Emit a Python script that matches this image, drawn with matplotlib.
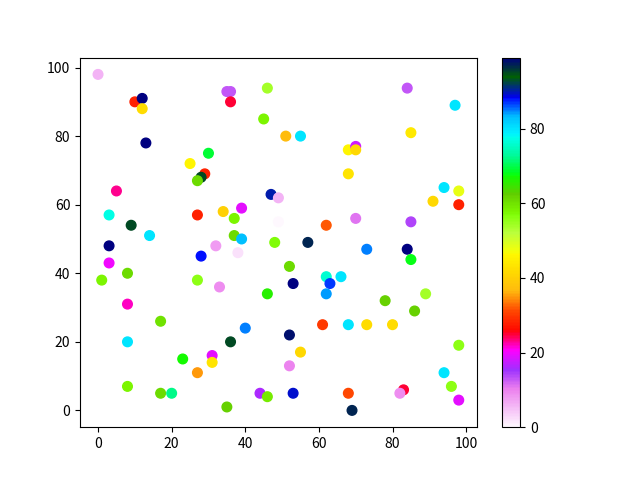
import matplotlib
matplotlib.use("Agg")
import matplotlib.pyplot as plt

plt.rcParams['font.family'] = ['Noto Sans CJK SC', 'DejaVu Sans']

x = [0, 10, 12, 12, 13, 25, 30, 29, 28, 27,
     35, 36, 36, 45, 46, 5, 3, 9, 14, 3,
     3, 1, 8, 8, 8, 17, 8, 17, 20, 23,
     27, 31, 31, 27, 28, 27, 32, 33, 34, 37,
     37, 39, 39, 36, 40, 35, 44, 46, 46, 47,
     49, 49, 48, 51, 55, 52, 53, 57, 52, 52,
     55, 53, 62, 62, 63, 62, 66, 61, 68, 73,
     80, 68, 69, 68, 70, 70, 68, 70, 73, 78,
     84, 85, 85, 84, 85, 86, 89, 83, 82, 91,
     94, 98, 98, 97, 94, 96, 98, 98, 38]
y = [98, 90, 91, 88, 78, 72, 75, 69, 68, 67,
     93, 93, 90, 85, 94, 64, 57, 54, 51, 48,
     43, 38, 40, 31, 20, 26, 7, 5, 5, 15,
     11, 16, 14, 57, 45, 38, 48, 36, 58, 56,
     51, 50, 59, 20, 24, 1, 5, 4, 34, 63,
     62, 55, 49, 80, 80, 42, 37, 49, 22, 13,
     17, 5, 54, 39, 37, 34, 39, 25, 25, 25,
     25, 5, 0, 76, 77, 76, 69, 56, 47, 32,
     94, 81, 55, 47, 44, 29, 34, 6, 5, 61,
     65, 64, 60, 89, 11, 7, 19, 3, 46]
c = [6, 28, 99, 42, 99, 46, 69, 28, 95, 61,
     13, 13, 25, 58, 54, 23, 77, 95, 80, 99,
     20, 58, 61, 22, 80, 60, 58, 61, 72, 67,
     35, 19, 43, 28, 88, 56, 8, 9, 40, 58,
     61, 83, 19, 95, 85, 62, 16, 59, 66, 90,
     6, 0, 57, 37, 80, 61, 99, 97, 98, 10,
     41, 89, 32, 76, 87, 84, 80, 30, 80, 42,
     42, 31, 97, 46, 18, 41, 43, 11, 85, 62,
     13, 44, 14, 99, 68, 62, 54, 25, 9, 41,
     80, 48, 28, 80, 80, 56, 56, 19, 2]

fig, ax = plt.subplots(figsize=(6.4, 4.8), dpi=100)
sc = ax.scatter(x, y, c=c, cmap='gist_ncar_r', s=48)
fig.colorbar(sc, ax=ax)
fig.savefig('out.png')
